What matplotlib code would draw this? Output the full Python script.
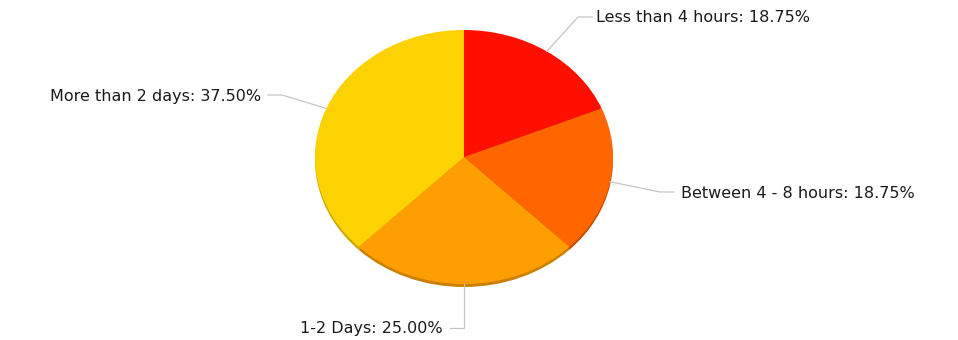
import numpy as np
import matplotlib
matplotlib.use('AGG')
import matplotlib.pyplot as plt

labels = ['Less than 4 hours', 'Between 4 - 8 hours', '1-2 Days', 'More than 2 days']
values = [18.75, 18.75, 25.00, 37.50]
colors = ['#FF0F00', '#FF6600', '#FF9E01', '#FCD202']
side_colors = ['#C40B00', '#C44E00', '#CC8000', '#C9A600']

W, H = 958, 340
fig = plt.figure(figsize=(W / 100, H / 100), dpi=100)

# pie bounding box in pixels (left, top, right, bottom)
px0, py0, px1, py1 = 315, 30, 613, 284
depth = 3
cx, cy = (px0 + px1) / 2, (py0 + py1) / 2
rx, ry = (px1 - px0) / 2, (py1 - py0) / 2


def pie_axes(dy):
    ax = fig.add_axes([px0 / W, (H - py1 - dy) / H, (px1 - px0) / W, (py1 - py0) / H])
    return ax


ax_side = pie_axes(depth)
ax_side.pie(values, colors=side_colors, startangle=90, counterclock=False,
            wedgeprops=dict(linewidth=0))
ax_side.set_aspect('auto')
ax_side.set_xlim(-1, 1)
ax_side.set_ylim(-1, 1)
ax_side.axis('off')

ax = pie_axes(0)
ax.pie(values, colors=colors, startangle=90, counterclock=False,
       wedgeprops=dict(linewidth=0))
ax.set_aspect('auto')
ax.set_xlim(-1, 1)
ax.set_ylim(-1, 1)
ax.axis('off')

# overlay in pixel coordinates for labels and connectors
ov = fig.add_axes([0, 0, 1, 1])
ov.set_xlim(0, W)
ov.set_ylim(H, 0)
ov.axis('off')

# label layout: (elbow point, line end, text x, text y, ha)
layout = [
    ((578, 17), (592, 17), 596, 18, 'left'),
    ((660, 192), (674, 192), 681, 193, 'left'),
    ((464, 328), (450, 328), 443, 329, 'right'),
    ((282, 95), (268, 95), 261, 96, 'right'),
]

cum = np.cumsum([0] + values)
total = sum(values)
for i, (lab, v) in enumerate(zip(labels, values)):
    mid = 90 - 360 * (cum[i] + v / 2) / total
    ax_x = cx + rx * np.cos(np.radians(mid))
    ax_y = cy - ry * np.sin(np.radians(mid))
    (ex, ey), (lx, ly), tx, ty, ha = layout[i]
    ov.plot([ax_x, ex, lx], [ax_y, ey, ly], color='#C4C4C4', lw=0.9)
    ov.text(tx, ty, '%s: %.2f%%' % (lab, v), ha=ha, va='center',
            fontsize=11.5, color='#1A1A1A', family='DejaVu Sans')

fig.savefig('out.png', dpi=100)
